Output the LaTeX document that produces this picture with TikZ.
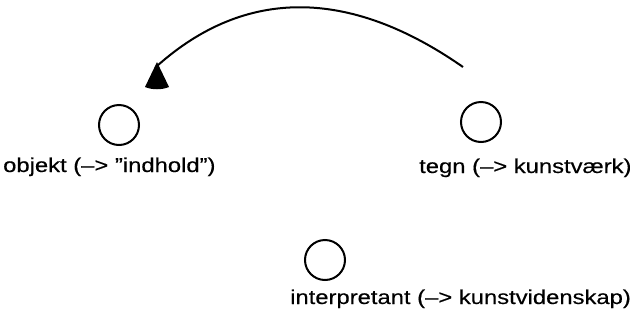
\documentclass[tikz,border=0pt]{standalone}
\usepackage{fontspec}
\setmainfont[FakeStretch=1.19,FakeBold=0.35]{Liberation Sans}
\begin{document}
\begin{tikzpicture}[x=1pt,y=-1pt,
  sign/.style={draw,circle,line width=2pt,minimum size=40pt,inner sep=0pt},
  lbl/.style={anchor=base west,inner sep=0pt,font=\fontsize{20}{24}\selectfont},
  arc/.style={line width=2pt}]
\useasboundingbox (0,0) rectangle (630,322);
\node[sign] (objekt) at (119,125) {};
\node[sign] (tegn) at (481,122) {};
\node[sign] (interp) at (325,260) {};
\node[lbl] (objektlbl) at (3,172) {objekt (–> "indhold")};
\node[lbl] (tegnlbl) at (419,173) {tegn (–> kunstværk)};
\node[lbl] (interplbl) at (290,304) {interpretant (–> kunstvidenskap)};
\coordinate (as) at (463,67);
\coordinate (ae) at (157,66);
\draw[arc] (as) .. controls (349,-12.5) and (245,-12.5) .. (ae);
\fill (157,62) -- (145,87) .. controls (152,90) and (162,90) .. (169,87) -- cycle;
\end{tikzpicture}
\end{document}
